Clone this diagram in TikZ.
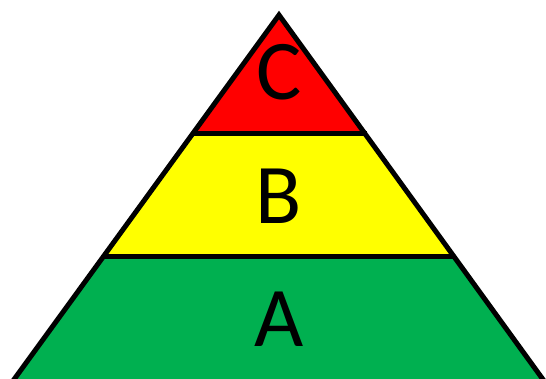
\documentclass[tikz,border=0pt]{standalone}
\usepackage{fontspec}
\setmainfont{Carlito}
\usetikzlibrary{positioning}
\definecolor{tierred}{HTML}{FF0000}
\definecolor{tieryellow}{HTML}{FFFF00}
\definecolor{tiergreen}{HTML}{00B050}
\tikzset{
  edge/.style={draw=black, line width=5pt, line join=miter},
  tierlabel/.style={font=\fontsize{85}{85}\selectfont, inner sep=0pt}
}
\begin{document}
\begin{tikzpicture}[x=1pt, y=-1pt]
  \useasboundingbox (0,0) rectangle (546,379);
  % pyramid outline points
  \coordinate (top) at (279,15);
  \coordinate (bl) at (10,385);
  \coordinate (br) at (547,385);
  % tiers
  \begin{scope}
    \clip (top) -- (bl) -- (br) -- cycle;
    \fill[tiergreen] (0,257) rectangle (560,390);
    \fill[tieryellow] (0,134) rectangle (560,257);
    \fill[tierred] (0,0) rectangle (560,134);
  \end{scope}
  \coordinate (l1) at (192,134);
  \coordinate (r1) at (367,134);
  \coordinate (l2) at (103,257);
  \coordinate (r2) at (455,257);
  \draw[edge] (l1) -- (r1);
  \draw[edge] (l2) -- (r2);
  \draw[edge] (top) -- (bl) -- (br) -- cycle;
  % labels
  \node[tierlabel] (c) at (279,72) {C};
  \node[tierlabel] (b) at (279,196) {B};
  \node[tierlabel] (a) at (279,319) {A};
\end{tikzpicture}
\end{document}
